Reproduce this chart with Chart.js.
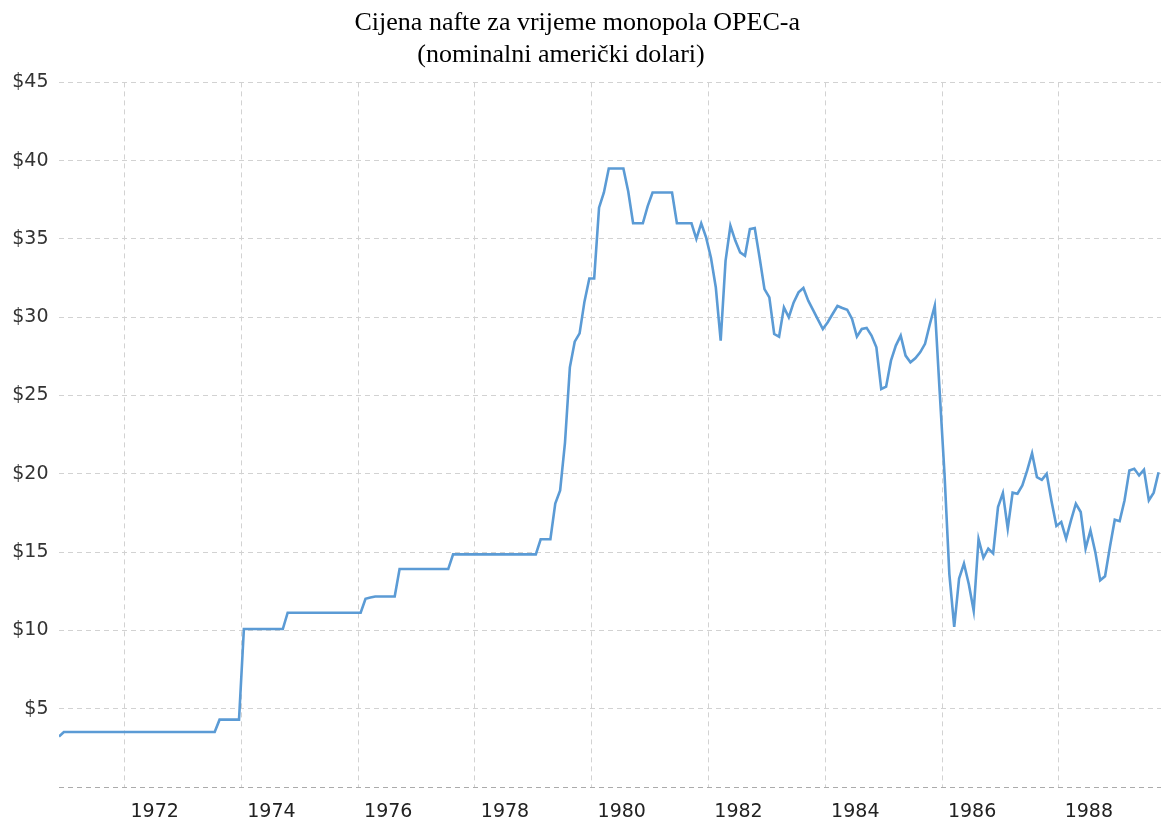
<!DOCTYPE html>
<html>
<head>
<meta charset="utf-8">
<style>
  html, body { margin: 0; padding: 0; background: #fff; }
  #wrap { width: 1161px; height: 828px; }
</style>
<script src="https://cdn.jsdelivr.net/npm/chart.js@4.4.1/dist/chart.umd.min.js"></script>
</head>
<body>
<div id="wrap"><canvas id="c" width="1161" height="828"></canvas></div>
<script>
// ---- Data (monthly oil price, nominal US$) ----
const firstYear = 1970;
const firstMonth = 11; // November 1970

const prices1970 = [3.23, 3.51];
const prices1971 = [3.51, 3.51, 3.51, 3.51, 3.51, 3.51, 3.51, 3.51, 3.51, 3.51, 3.51, 3.51];
const prices1972 = [3.51, 3.51, 3.51, 3.51, 3.51, 3.51, 3.51, 3.51, 3.51, 3.51, 3.51, 3.51];
const prices1973 = [3.51, 3.51, 3.51, 3.51, 3.51, 3.51, 3.51, 4.30, 4.30, 4.30, 4.30, 4.30];
const prices1974 = [10.09, 10.09, 10.09, 10.09, 10.09, 10.09, 10.09, 10.09, 10.09, 11.13, 11.13, 11.13];
const prices1975 = [11.13, 11.13, 11.13, 11.13, 11.13, 11.13, 11.13, 11.13, 11.13, 11.13, 11.13, 11.13];
const prices1976 = [11.13, 12.02, 12.10, 12.17, 12.17, 12.17, 12.17, 12.17, 13.92, 13.92, 13.92, 13.92];
const prices1977 = [13.92, 13.92, 13.92, 13.92, 13.92, 13.92, 13.92, 14.86, 14.86, 14.86, 14.86, 14.86];
const prices1978 = [14.86, 14.86, 14.86, 14.86, 14.86, 14.86, 14.86, 14.86, 14.86, 14.86, 14.86, 14.86];
const prices1979 = [14.86, 15.82, 15.82, 15.82, 18.10, 18.94, 22.00, 26.80, 28.44, 28.97, 31.00, 32.48];
const prices1980 = [32.48, 37.00, 37.97, 39.50, 39.50, 39.50, 39.50, 38.03, 36.00, 36.00, 36.00, 37.10];
const prices1981 = [37.97, 37.97, 37.97, 37.97, 37.97, 36.00, 36.00, 36.00, 36.00, 35.00, 36.00, 35.10];
const prices1982 = [33.80, 31.90, 28.50, 33.60, 35.84, 34.90, 34.14, 33.93, 35.63, 35.70, 33.80, 31.80];
const prices1983 = [31.27, 28.93, 28.76, 30.63, 30.00, 30.95, 31.59, 31.87, 31.06, 30.46, 29.85, 29.25];
const prices1984 = [29.68, 30.21, 30.72, 30.59, 30.48, 29.89, 28.76, 29.25, 29.32, 28.83, 28.08, 25.42];
const prices1985 = [25.57, 27.23, 28.19, 28.83, 27.55, 27.12, 27.38, 27.76, 28.30, 29.57, 30.74, 25.30];
const prices1986 = [20.00, 13.60, 10.22, 13.31, 14.27, 12.95, 11.25, 15.84, 14.64, 15.22, 14.92, 17.88];
const prices1987 = [18.77, 16.50, 18.80, 18.73, 19.26, 20.22, 21.32, 19.79, 19.62, 20.00, 18.25, 16.67];
const prices1988 = [16.92, 15.86, 17.03, 18.09, 17.56, 15.22, 16.39, 15.00, 13.20, 13.46, 15.33, 17.07];
const prices1989 = [16.98, 18.30, 20.22, 20.33, 19.90, 20.26, 18.30, 18.80, 20.10];

const xTickYears = [1972, 1974, 1976, 1978, 1980, 1982, 1984, 1986, 1988];
const yTickValues = [0, 5, 10, 15, 20, 25, 30, 35, 40, 45];

const titleLines = ['Cijena nafte za vrijeme monopola OPEC-a', '(nominalni američki dolari)'];

// ---- Build the series (points at mid-month) ----
const allPrices = [].concat(prices1970, prices1971, prices1972, prices1973, prices1974,
  prices1975, prices1976, prices1977, prices1978, prices1979, prices1980, prices1981,
  prices1982, prices1983, prices1984, prices1985, prices1986, prices1987, prices1988, prices1989);

const points = allPrices.map((p, i) => {
  const monthIndex = (firstMonth - 1) + i;           // months since Jan of firstYear
  const year = firstYear + Math.floor(monthIndex / 12);
  const month = monthIndex % 12;                      // 0..11
  return { x: year + (month + 0.5) / 12, y: p };
});

const xMin = points[0].x;
const xMax = 1989.75;

const gridDash = [5, 4];

new Chart(document.getElementById('c'), {
  type: 'line',
  data: {
    datasets: [{
      data: points,
      borderColor: '#5b9bd5',
      borderWidth: 2.6,
      pointRadius: 0,
      pointHoverRadius: 0,
      tension: 0,
      fill: false
    }]
  },
  options: {
    responsive: false,
    animation: false,
    devicePixelRatio: 1,
    layout: { padding: { left: 0, right: 0, top: 0, bottom: 0 } },
    plugins: {
      legend: { display: false },
      tooltip: { enabled: false },
      title: {
        display: true,
        text: [titleLines[0] + '\u00a0', titleLines[1] + '\u00a0\u00a0\u00a0\u00a0\u00a0\u00a0'],
        color: '#000',
        font: { family: '"Liberation Serif", "Times New Roman", serif', size: 26, weight: 'normal', lineHeight: 1.2 },
        padding: { top: 8, bottom: 12 }
      }
    },
    scales: {
      x: {
        type: 'linear',
        min: xMin,
        max: xMax,
        afterBuildTicks: (scale) => { scale.ticks = xTickYears.map(v => ({ value: v })); },
        afterFit: (scale) => { scale.height = 41; },
        ticks: {
          callback: (v) => String(v),
          color: '#222',
          font: { family: '"DejaVu Sans", Verdana, sans-serif', size: 19 },
          labelOffset: 30,
          padding: 13.5,
          maxRotation: 0,
          autoSkip: false
        },
        grid: { color: '#d2d2d2', lineWidth: 1, drawTicks: false },
        border: { display: false, dash: gridDash }
      },
      y: {
        type: 'linear',
        min: 0,
        max: 45,
        afterBuildTicks: (scale) => { scale.ticks = yTickValues.map(v => ({ value: v })); },
        afterFit: (scale) => { scale.width = 59; },
        ticks: {
          callback: (v) => (v === 0 ? '' : '$' + v),
          color: '#333',
          font: { family: '"DejaVu Sans", Verdana, sans-serif', size: 19 },
          padding: 10.5
        },
        grid: {
          color: (ctx) => (ctx.tick && ctx.tick.value === 0 ? '#ababab' : '#d2d2d2'),
          lineWidth: 1,
          drawTicks: false
        },
        border: { display: false, dash: gridDash }
      }
    }
  }
});
</script>
</body>
</html>
